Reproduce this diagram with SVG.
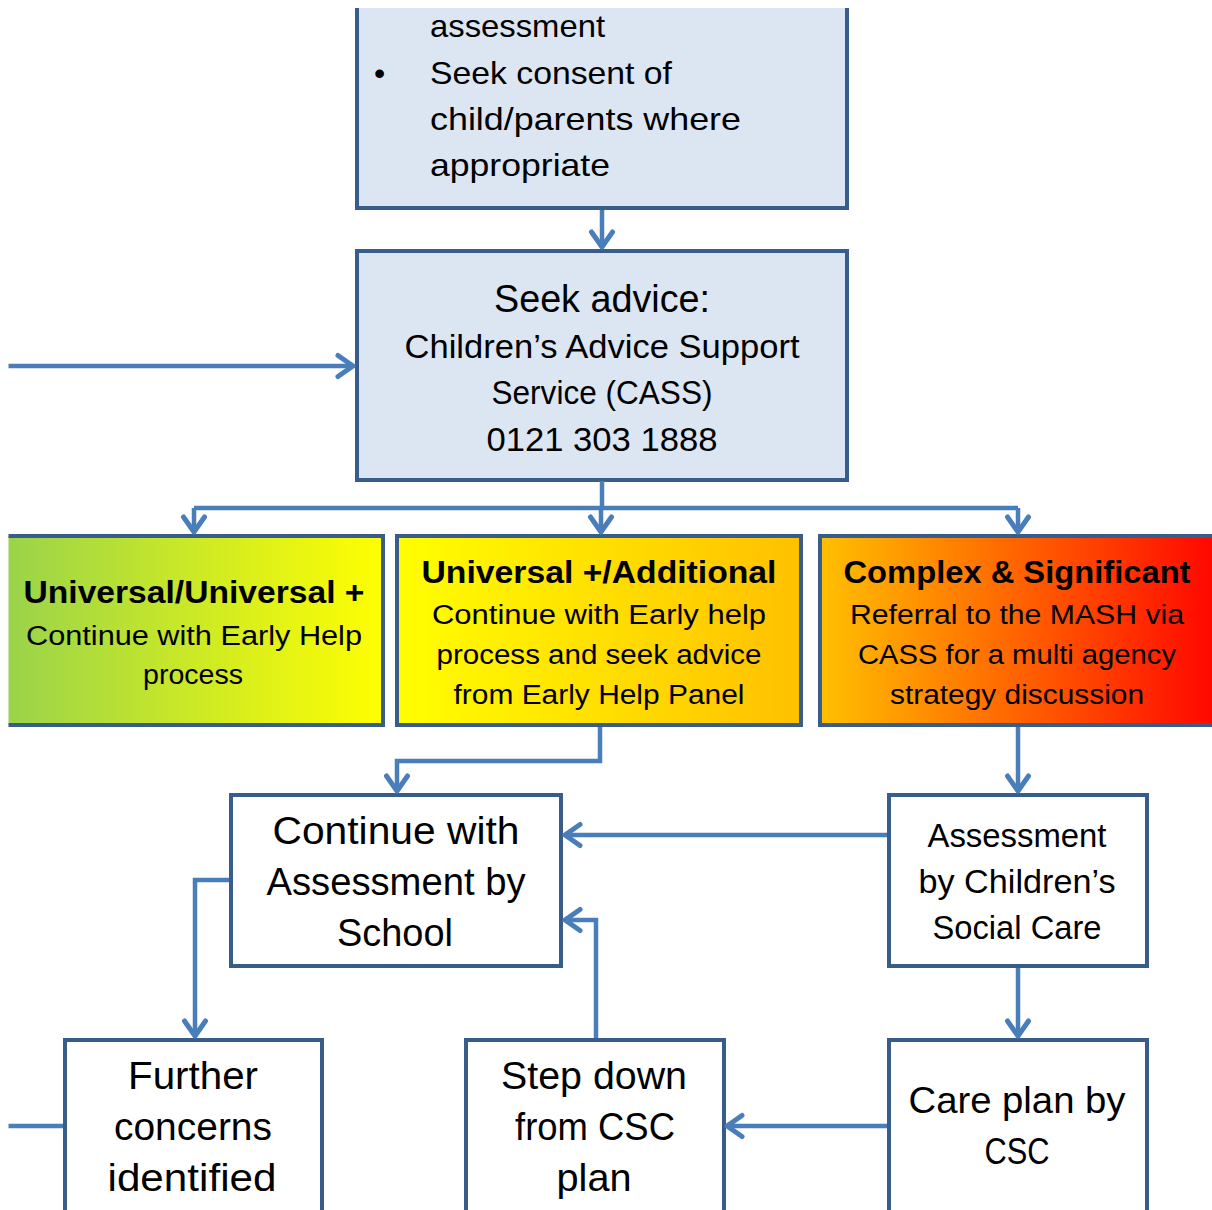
<svg xmlns="http://www.w3.org/2000/svg" width="1212" height="1210" viewBox="0 0 1212 1210">
<defs>
<style>
.box{stroke:#385D8A;stroke-width:4}
.plain{fill:#ffffff}
.blue{fill:#DCE6F2}
.t{font-family:"Liberation Sans",Arial,sans-serif;fill:#000;text-anchor:middle}
.l{font-family:"Liberation Sans",Arial,sans-serif;fill:#000;text-anchor:start}
.b{font-weight:bold}
.conn path{fill:none;stroke:#4A7EBB;stroke-width:4.5;stroke-linejoin:miter}
</style>
<linearGradient id="gGreen" x1="0" y1="0" x2="1" y2="0">
<stop offset="0" stop-color="#92D050"/><stop offset="1" stop-color="#FFFF00"/>
</linearGradient>
<linearGradient id="gYellow" x1="0" y1="0" x2="1" y2="0">
<stop offset="0" stop-color="#FFFF00"/><stop offset="1" stop-color="#FFC000"/>
</linearGradient>
<linearGradient id="gRed" x1="0" y1="0" x2="1" y2="0">
<stop offset="0" stop-color="#FFC000"/><stop offset="1" stop-color="#FF0000"/>
</linearGradient>
<marker id="arr" markerUnits="userSpaceOnUse" viewBox="-20 -14 24 28" markerWidth="24" markerHeight="28" refX="0" refY="0" orient="auto">
<path d="M -15 -10.5 L 0 0 L -15 10.5" fill="none" stroke="#4A7EBB" stroke-width="5" stroke-linecap="round" stroke-linejoin="round"/>
</marker>
<clipPath id="crop"><rect x="8.5" y="8" width="1204" height="1202"/></clipPath>
</defs>
<rect width="1212" height="1210" fill="#ffffff"/>
<g clip-path="url(#crop)">
<g id="top-box">
<rect class="box blue" x="357" y="-20" width="490" height="228"/>
<text class="l" font-size="32" x="430" y="37" textLength="175" lengthAdjust="spacingAndGlyphs">assessment</text>
<text class="l" font-size="32" x="374" y="84">•</text>
<text class="l" font-size="32" x="430" y="84" textLength="242" lengthAdjust="spacingAndGlyphs">Seek consent of</text>
<text class="l" font-size="32" x="430" y="130" textLength="311" lengthAdjust="spacingAndGlyphs">child/parents where</text>
<text class="l" font-size="32" x="430" y="176" textLength="180" lengthAdjust="spacingAndGlyphs">appropriate</text>
</g>
<g id="cass-box">
<rect class="box blue" x="357" y="251" width="490" height="229"/>
<text class="t" font-size="38" x="602" y="312" textLength="216" lengthAdjust="spacingAndGlyphs">Seek advice:</text>
<text class="t" font-size="33" x="602" y="358" textLength="395" lengthAdjust="spacingAndGlyphs">Children’s Advice Support</text>
<text class="t" font-size="33" x="602" y="404" textLength="221" lengthAdjust="spacingAndGlyphs">Service (CASS)</text>
<text class="t" font-size="33" x="602" y="451" textLength="231" lengthAdjust="spacingAndGlyphs">0121 303 1888</text>
</g>
<g id="universal-box">
<rect class="box" fill="url(#gGreen)" x="-20" y="536" width="403" height="189"/>
<text class="t b" font-size="31" x="194" y="603" textLength="341" lengthAdjust="spacingAndGlyphs">Universal/Universal +</text>
<text class="t" font-size="27" x="194" y="645" textLength="336" lengthAdjust="spacingAndGlyphs">Continue with Early Help</text>
<text class="t" font-size="27" x="193" y="684" textLength="100" lengthAdjust="spacingAndGlyphs">process</text>
</g>
<g id="additional-box">
<rect class="box" fill="url(#gYellow)" x="397" y="536" width="404" height="189"/>
<text class="t b" font-size="31" x="599" y="583" textLength="355" lengthAdjust="spacingAndGlyphs">Universal +/Additional</text>
<text class="t" font-size="27" x="599" y="624" textLength="334" lengthAdjust="spacingAndGlyphs">Continue with Early help</text>
<text class="t" font-size="27" x="599" y="664" textLength="325" lengthAdjust="spacingAndGlyphs">process and seek advice</text>
<text class="t" font-size="27" x="599" y="704" textLength="291" lengthAdjust="spacingAndGlyphs">from Early Help Panel</text>
</g>
<g id="complex-box">
<rect class="box" fill="url(#gRed)" x="820" y="536" width="410" height="189"/>
<text class="t b" font-size="31" x="1017" y="583" textLength="347" lengthAdjust="spacingAndGlyphs">Complex &amp; Significant</text>
<text class="t" font-size="27" x="1017" y="624" textLength="334" lengthAdjust="spacingAndGlyphs">Referral to the MASH via</text>
<text class="t" font-size="27" x="1017" y="664" textLength="318" lengthAdjust="spacingAndGlyphs">CASS for a multi agency</text>
<text class="t" font-size="27" x="1017" y="704" textLength="254" lengthAdjust="spacingAndGlyphs">strategy discussion</text>
</g>
<g id="school-box">
<rect class="box plain" x="231" y="795" width="330" height="171"/>
<text class="t" font-size="39" x="396" y="844" textLength="247" lengthAdjust="spacingAndGlyphs">Continue with</text>
<text class="t" font-size="39" x="396" y="895" textLength="259" lengthAdjust="spacingAndGlyphs">Assessment by</text>
<text class="t" font-size="39" x="395" y="946" textLength="116" lengthAdjust="spacingAndGlyphs">School</text>
</g>
<g id="csc-assessment-box">
<rect class="box plain" x="889" y="795" width="258" height="171"/>
<text class="t" font-size="33" x="1017" y="847" textLength="179" lengthAdjust="spacingAndGlyphs">Assessment</text>
<text class="t" font-size="33" x="1017" y="893" textLength="197" lengthAdjust="spacingAndGlyphs">by Children’s</text>
<text class="t" font-size="33" x="1017" y="939" textLength="169" lengthAdjust="spacingAndGlyphs">Social Care</text>
</g>
<g id="further-box">
<rect class="box plain" x="65" y="1040" width="257" height="200"/>
<text class="t" font-size="39" x="193" y="1089" textLength="130" lengthAdjust="spacingAndGlyphs">Further</text>
<text class="t" font-size="39" x="193" y="1140" textLength="158" lengthAdjust="spacingAndGlyphs">concerns</text>
<text class="t" font-size="39" x="192" y="1191" textLength="169" lengthAdjust="spacingAndGlyphs">identified</text>
</g>
<g id="stepdown-box">
<rect class="box plain" x="466" y="1040" width="258" height="200"/>
<text class="t" font-size="39" x="594" y="1089" textLength="186" lengthAdjust="spacingAndGlyphs">Step down</text>
<text class="t" font-size="39" x="595" y="1140" textLength="160" lengthAdjust="spacingAndGlyphs">from CSC</text>
<text class="t" font-size="39" x="594" y="1191" textLength="75" lengthAdjust="spacingAndGlyphs">plan</text>
</g>
<g id="careplan-box">
<rect class="box plain" x="889" y="1040" width="258" height="200"/>
<text class="t" font-size="36" x="1017" y="1113" textLength="217" lengthAdjust="spacingAndGlyphs">Care plan by</text>
<text class="t" font-size="36" x="1017" y="1164" textLength="65" lengthAdjust="spacingAndGlyphs">CSC</text>
</g>
<g id="connectors" class="conn">
<path d="M 602 210 V 247" marker-end="url(#arr)"/>
<path d="M 8 366 H 353" marker-end="url(#arr)"/>
<path d="M 602 481 V 508"/>
<path d="M 194 508 H 1018"/>
<path d="M 194 508 V 532" marker-end="url(#arr)"/>
<path d="M 601 508 V 532" marker-end="url(#arr)"/>
<path d="M 1018 508 V 532" marker-end="url(#arr)"/>
<path d="M 600 727 V 761 H 397 V 791" marker-end="url(#arr)"/>
<path d="M 1018 727 V 791" marker-end="url(#arr)"/>
<path d="M 887 835 H 565" marker-end="url(#arr)"/>
<path d="M 229 880 H 195 V 1036" marker-end="url(#arr)"/>
<path d="M 596 1038 V 920 H 565" marker-end="url(#arr)"/>
<path d="M 1018 968 V 1036" marker-end="url(#arr)"/>
<path d="M 887 1126 H 727" marker-end="url(#arr)"/>
<path d="M 8 1126 H 63"/>
</g>
</g>
</svg>
